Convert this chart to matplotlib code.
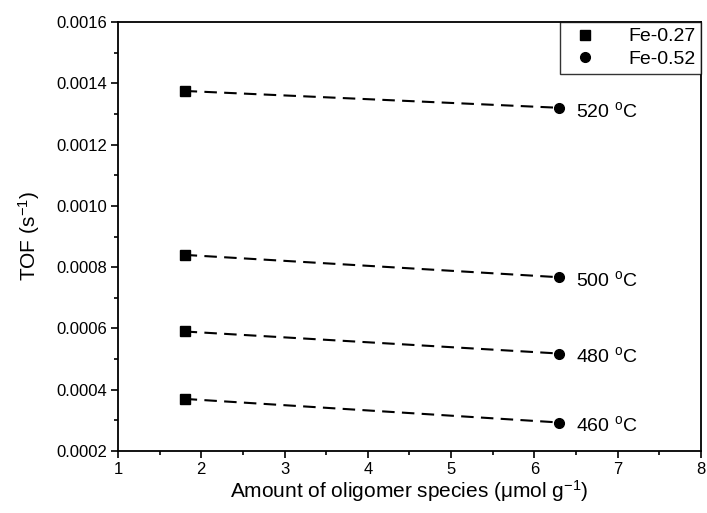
import matplotlib
matplotlib.use('Agg')
import matplotlib.pyplot as plt
from matplotlib.ticker import MultipleLocator, AutoMinorLocator, FormatStrFormatter

# --- data ---
temps = ['520', '500', '480', '460']
x_fe027 = 1.8
x_fe052 = 6.3
tof_fe027 = [0.001375, 0.00084, 0.00059, 0.00037]
tof_fe052 = [0.00132, 0.000767, 0.000518, 0.000293]

plt.rcParams['font.family'] = ['Liberation Sans', 'DejaVu Sans']
plt.rcParams['mathtext.fontset'] = 'custom'
plt.rcParams['mathtext.rm'] = 'Liberation Sans'
plt.rcParams['mathtext.it'] = 'Liberation Sans:italic'

fig = plt.figure(figsize=(7.07, 5.13), dpi=100)
ax = fig.add_axes([118 / 707, 1 - 451 / 513, (701 - 118) / 707, (451 - 22) / 513])

# dashed guide lines between the two catalysts
for a, b in zip(tof_fe027, tof_fe052):
    ax.plot([x_fe027, x_fe052], [a, b], color='black', linestyle=(0, (6, 3.5)), lw=1.5)

ax.plot([x_fe027] * len(tof_fe027), tof_fe027, 's', color='black', ms=7, label='Fe-0.27')
ax.plot([x_fe052] * len(tof_fe052), tof_fe052, 'o', color='black', ms=7, label='Fe-0.52')

for t, y in zip(temps, tof_fe052):
    ax.annotate(t + r' $^{\mathrm{o}}$C', (x_fe052, y), xytext=(12, -2),
                textcoords='offset points', ha='left', va='center', fontsize=14)

ax.set_xlim(1, 8)
ax.set_ylim(0.0002, 0.0016)
ax.xaxis.set_major_locator(MultipleLocator(1))
ax.yaxis.set_major_locator(MultipleLocator(0.0002))
ax.xaxis.set_minor_locator(AutoMinorLocator(2))
ax.yaxis.set_minor_locator(AutoMinorLocator(2))
ax.yaxis.set_major_formatter(FormatStrFormatter('%.4f'))
ax.tick_params(which='major', direction='out', length=5, width=1.2, labelsize=12, pad=3)
ax.tick_params(which='minor', direction='out', length=3, width=1.2)
ax.tick_params(top=False, right=False, which='both')
for s in ax.spines.values():
    s.set_linewidth(1.3)

ax.set_xlabel(r'Amount of oligomer species ($\mathrm{\mu}$mol g$^{\mathrm{-1}}$)', fontsize=15, labelpad=1)
ax.set_ylabel(r'TOF (s$^{\mathrm{-1}}$)', fontsize=15, labelpad=10)

leg = ax.legend(loc='upper right', frameon=True, fancybox=False, borderaxespad=0,
                handletextpad=1.2, fontsize=14, borderpad=0.3, labelspacing=0.25,
                handlelength=2.0)
leg.get_frame().set_edgecolor('black')
leg.get_frame().set_linewidth(1.0)

fig.savefig('out.png', dpi=100)
